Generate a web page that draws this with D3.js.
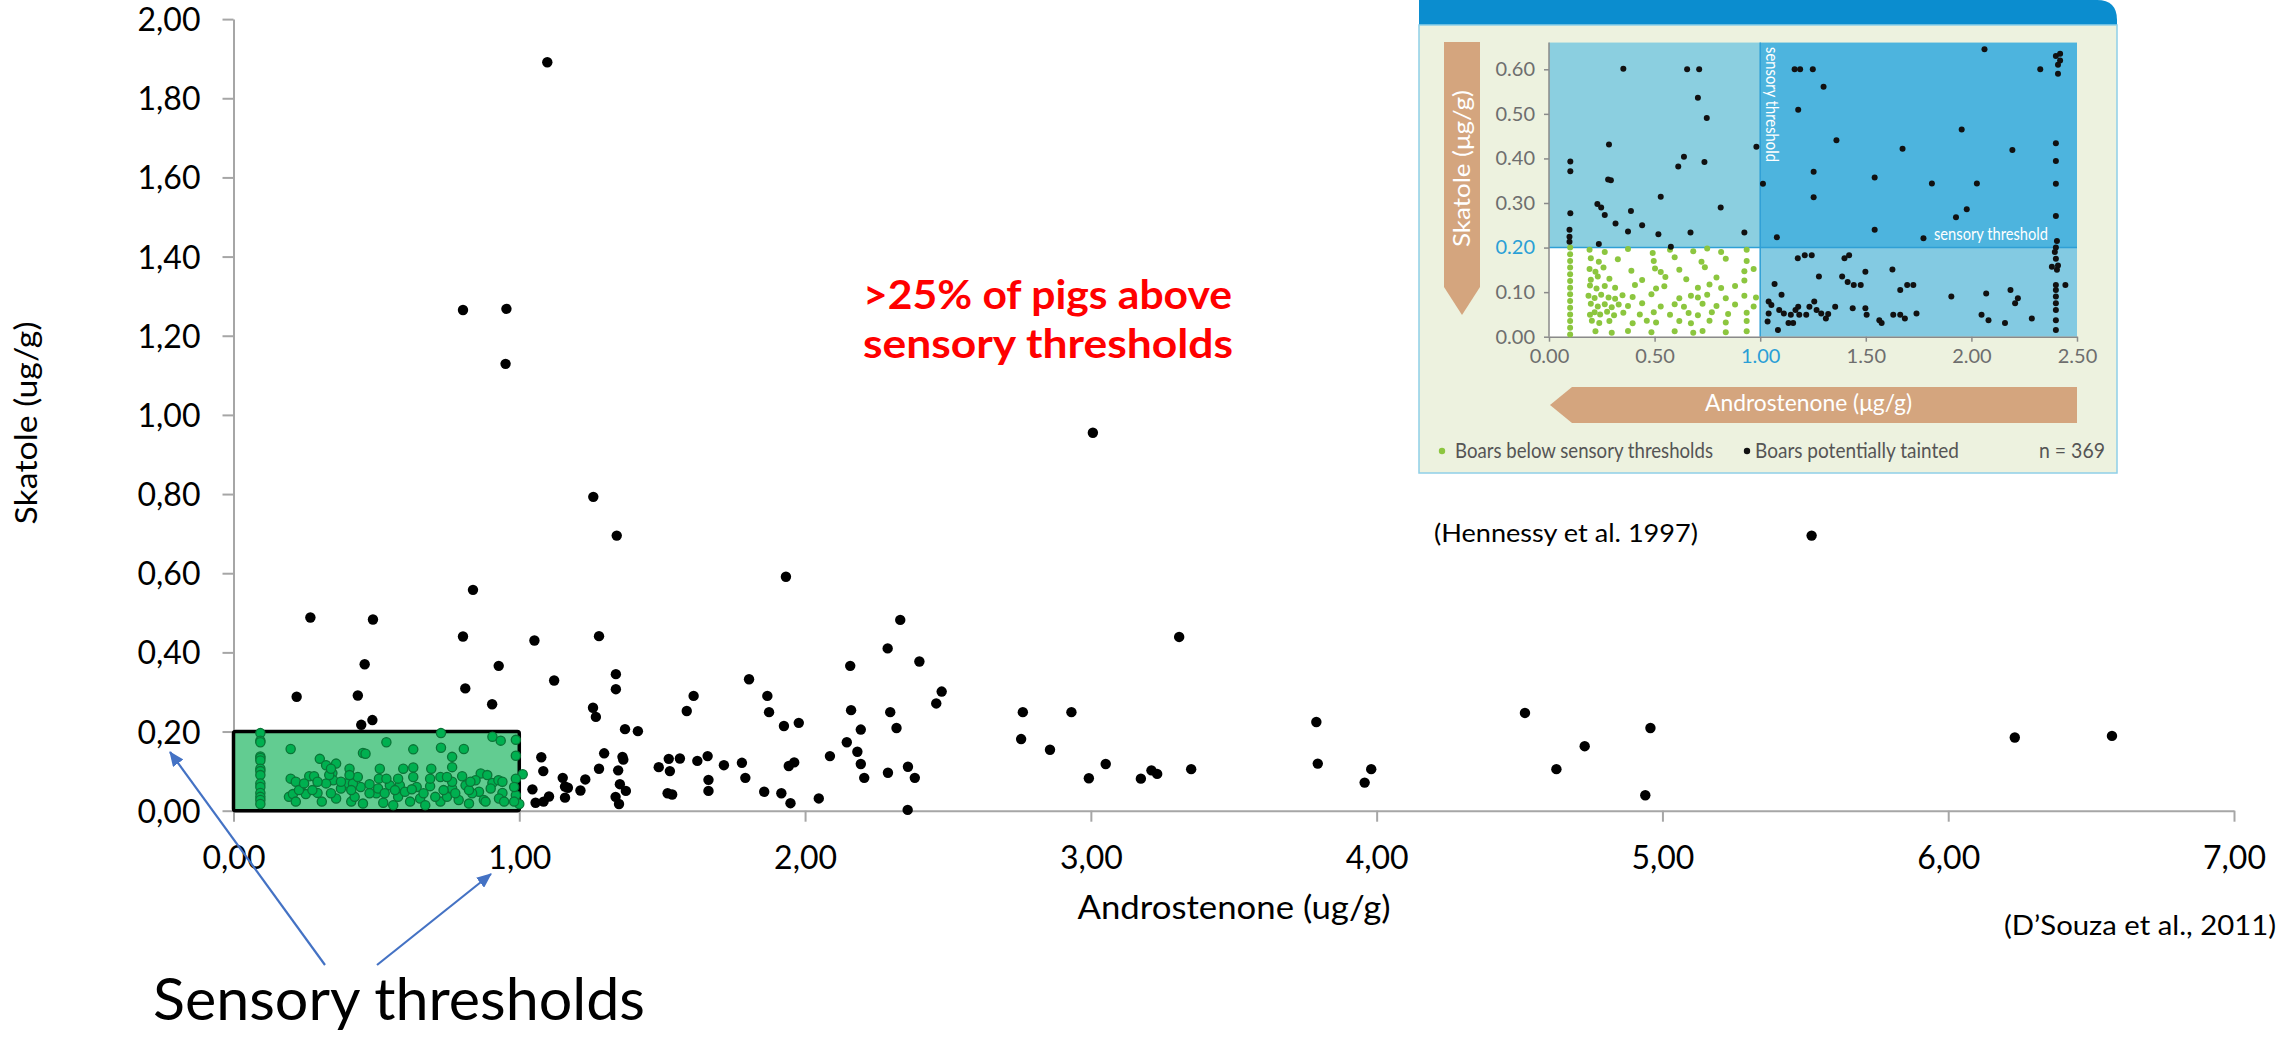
<!DOCTYPE html>
<html><head><meta charset="utf-8">
<script src="https://cdn.jsdelivr.net/npm/d3@7"></script>
<style>body{margin:0;background:#fff;} svg{display:block;}</style>
</head><body>
<script>
// ---------------- DATA ----------------
const xTickValues = [0, 1, 2, 3, 4, 5, 6, 7];
const yTickValues = [0, 0.2, 0.4, 0.6, 0.8, 1.0, 1.2, 1.4, 1.6, 1.8, 2.0];
const thresholdAndrostenone = 1.0;
const thresholdSkatole = 0.2;

// Boars above thresholds (androstenone, skatole) - black
const taintedBoars = [
  [1.098,1.891],[0.803,1.265],[0.955,1.268],[0.952,1.129],
  [0.269,0.488],[0.488,0.483],[0.221,0.288],[0.435,0.291],[0.459,0.370],[0.447,0.217],[0.486,0.229],
  [0.838,0.558],[0.803,0.440],[0.928,0.366],[0.811,0.309],[0.905,0.269],[1.259,0.793],
  [1.341,0.695],[1.933,0.591],[1.053,0.430],[1.279,0.441],[1.122,0.329],[1.338,0.345],[1.338,0.307],
  [1.258,0.260],[1.268,0.237],[1.370,0.206],[1.415,0.201],[2.333,0.482],[2.289,0.410],[2.400,0.377],
  [2.158,0.366],[1.804,0.332],[1.610,0.290],[1.586,0.252],[1.868,0.290],[1.874,0.249],[2.161,0.254],
  [2.298,0.249],[2.320,0.209],[2.478,0.301],[2.459,0.271],[2.195,0.205],[2.146,0.173],[2.087,0.138],
  [2.183,0.149],[2.195,0.118],[2.207,0.083],[2.290,0.096],[2.360,0.111],[2.384,0.083],[2.359,0.002],
  [2.762,0.249],[2.756,0.181],[2.857,0.154],[2.932,0.249],[2.993,0.082],[3.052,0.118],
  [1.926,0.214],[1.978,0.222],[1.943,0.113],[1.962,0.122],[1.917,0.044],[1.949,0.019],[2.048,0.031],
  [1.857,0.048],[1.779,0.121],[1.791,0.083],[1.716,0.115],[1.659,0.138],[1.623,0.126],[1.662,0.078],
  [1.662,0.050],[1.562,0.132],[1.523,0.131],[1.488,0.110],[1.527,0.100],[1.519,0.044],[1.535,0.041],
  [1.361,0.136],[1.364,0.129],[1.297,0.145],[1.279,0.106],[1.346,0.102],[1.352,0.067],[1.373,0.050],
  [1.337,0.035],[1.349,0.017],[1.231,0.079],[1.214,0.051],[1.152,0.083],[1.160,0.061],[1.170,0.058],
  [1.160,0.033],[1.077,0.135],[1.084,0.100],[1.046,0.054],[1.057,0.020],[1.085,0.023],[1.104,0.036],
  [3.175,0.081],[3.212,0.102],[3.232,0.093],[3.309,0.439],[3.351,0.105],[3.789,0.224],[3.794,0.119],
  [3.958,0.071],[3.981,0.105],[4.519,0.247],[4.728,0.163],[4.629,0.105],[4.958,0.209],[4.940,0.039],
  [5.522,0.695],[6.233,0.185],[6.573,0.189],[3.007,0.955]
];

// Boars below both thresholds - green
const belowThresholdBoars = [
  [0.094,0.196],[0.094,0.177],[0.094,0.173],[0.094,0.137],[0.094,0.133],[0.094,0.127],[0.094,0.106],
  [0.094,0.100],[0.094,0.090],[0.094,0.069],[0.094,0.060],[0.094,0.045],[0.094,0.035],[0.094,0.027],[0.094,0.017],
  [0.200,0.156],[0.302,0.131],[0.324,0.115],[0.359,0.119],[0.406,0.106],[0.453,0.146],[0.462,0.144],
  [0.512,0.106],[0.535,0.173],[0.594,0.106],[0.629,0.155],[0.629,0.109],[0.692,0.106],[0.726,0.196],
  [0.726,0.159],[0.765,0.136],[0.765,0.110],[0.806,0.156],[0.865,0.094],[0.906,0.187],[0.935,0.177],
  [0.988,0.179],[0.988,0.139],[1.012,0.092],[0.988,0.081],[0.988,0.039],[1.000,0.017],
  [0.200,0.081],[0.265,0.087],[0.282,0.087],[0.346,0.095],[0.349,0.077],[0.394,0.069],[0.445,0.060],
  [0.476,0.067],[0.509,0.081],[0.547,0.064],[0.582,0.064],[0.629,0.085],[0.641,0.060],[0.688,0.062],
  [0.724,0.085],[0.765,0.056],[0.800,0.087],[0.812,0.064],[0.847,0.077],[0.859,0.048],[0.906,0.070],
  [0.927,0.077],[0.941,0.045],[0.929,0.031],[0.194,0.035],[0.208,0.042],[0.253,0.042],[0.294,0.045],
  [0.309,0.023],[0.359,0.031],[0.376,0.056],[0.412,0.023],[0.424,0.035],[0.453,0.018],[0.500,0.044],
  [0.524,0.020],[0.559,0.014],[0.576,0.035],[0.618,0.023],[0.653,0.031],[0.671,0.014],[0.724,0.023],
  [0.747,0.035],[0.788,0.027],[0.835,0.044],[0.876,0.027],[0.882,0.023],[0.218,0.023],[0.235,0.060],
  [0.218,0.073],[0.229,0.052],[0.247,0.069],[0.276,0.052],[0.324,0.069],[0.341,0.044],[0.376,0.073],
  [0.418,0.069],[0.435,0.085],[0.476,0.044],[0.506,0.056],[0.529,0.044],[0.600,0.048],[0.624,0.054],
  [0.665,0.044],[0.706,0.035],[0.735,0.052],[0.776,0.044],[0.824,0.052],[0.824,0.018],[0.947,0.023],
  [0.982,0.023],[0.982,0.060],[0.941,0.073],[0.335,0.090],[0.341,0.106],[0.406,0.090],[0.535,0.081],
  [0.576,0.081],[0.688,0.081],[0.765,0.073],[0.747,0.085],[0.412,0.052],[0.565,0.052],[0.294,0.073],
  [0.888,0.090],[0.900,0.056],[0.829,0.073]
];

// Inset (Hennessy et al. 1997)
const insetXTicks = [0, 0.5, 1.0, 1.5, 2.0, 2.5];
const insetYTicks = [0, 0.1, 0.2, 0.3, 0.4, 0.5, 0.6];
const insetTainted = [
  [0.352,0.601],[0.654,0.600],[0.711,0.600],[0.705,0.536],[0.747,0.491],[0.284,0.431],[0.101,0.393],
  [0.101,0.371],[0.639,0.404],[0.612,0.382],[0.736,0.392],[0.529,0.314],[0.229,0.298],[0.247,0.290],
  [0.264,0.273],[0.280,0.353],[0.293,0.351],[0.388,0.282],[0.813,0.290],[0.101,0.277],[0.315,0.254],
  [0.441,0.250],[0.374,0.236],[0.518,0.230],[0.670,0.234],[0.925,0.234],[0.577,0.202],[0.236,0.208],
  [0.097,0.240],[0.097,0.224],[0.097,0.213],[0.982,0.426],
  [1.163,0.600],[1.189,0.600],[1.249,0.600],[1.300,0.561],[1.180,0.509],[2.062,0.645],[2.326,0.600],
  [2.400,0.630],[2.410,0.610],[2.410,0.590],[2.420,0.620],[2.420,0.635],[1.361,0.441],[1.674,0.422],
  [1.954,0.465],[2.194,0.419],[2.400,0.434],[2.400,0.394],[2.400,0.343],[2.400,0.271],[1.013,0.343],
  [1.253,0.370],[1.253,0.313],[1.542,0.357],[1.813,0.344],[2.026,0.344],[1.978,0.286],[1.927,0.268],
  [1.542,0.240],[1.079,0.223],[1.773,0.221],
  [1.068,0.118],[1.101,0.094],[1.040,0.079],[1.053,0.071],[1.040,0.052],[1.035,0.034],[1.090,0.060],
  [1.112,0.052],[1.145,0.049],[1.167,0.060],[1.084,0.015],[1.134,0.031],[1.156,0.031],[1.180,0.067],
  [1.185,0.049],[1.178,0.176],[1.211,0.183],[1.244,0.183],[1.218,0.049],[1.233,0.067],[1.267,0.060],
  [1.278,0.135],[1.256,0.079],[1.289,0.052],[1.311,0.041],[1.322,0.051],[1.355,0.067],[1.399,0.176],
  [1.421,0.183],[1.388,0.135],[1.414,0.123],[1.443,0.116],[1.476,0.116],[1.498,0.146],[1.438,0.064],
  [1.498,0.064],[1.504,0.049],[1.564,0.037],[1.575,0.031],[1.626,0.151],[1.630,0.049],[1.663,0.049],
  [1.685,0.041],[1.663,0.105],[1.696,0.116],[1.725,0.116],[1.740,0.052],[1.905,0.090],[2.048,0.049],
  [2.081,0.037],[2.070,0.097],[2.159,0.031],[2.185,0.105],[2.207,0.075],[2.220,0.086],[2.286,0.041],
  [2.400,0.015],[2.400,0.037],[2.400,0.060],[2.400,0.075],[2.400,0.090],[2.400,0.105],[2.400,0.116],
  [2.405,0.150],[2.410,0.160],[2.400,0.175],[2.395,0.190],[2.400,0.200],[2.405,0.215],[2.445,0.116],[2.381,0.157]
];
const insetBelow = [
  [0.1,0.005],[0.1,0.02],[0.1,0.035],[0.1,0.05],[0.1,0.065],[0.1,0.08],[0.1,0.095],[0.1,0.11],
  [0.1,0.125],[0.1,0.14],[0.1,0.155],[0.1,0.17],[0.1,0.185],[0.1,0.2],
  [0.192,0.195],[0.264,0.190],[0.374,0.197],[0.491,0.188],[0.573,0.195],[0.683,0.192],[0.749,0.198],[0.815,0.190],[0.936,0.195],
  [0.198,0.176],[0.236,0.168],[0.326,0.174],[0.496,0.170],[0.595,0.178],[0.722,0.168],[0.837,0.175],[0.936,0.170],
  [0.192,0.152],[0.220,0.146],[0.258,0.155],[0.390,0.148],[0.502,0.153],[0.529,0.145],[0.617,0.150],[0.738,0.156],[0.925,0.147],[0.969,0.152],
  [0.198,0.128],[0.231,0.135],[0.286,0.130],[0.441,0.127],[0.551,0.134],[0.650,0.129],[0.793,0.133],[0.925,0.126],
  [0.194,0.115],[0.225,0.108],[0.264,0.114],[0.313,0.110],[0.407,0.116],[0.507,0.108],[0.546,0.113],[0.705,0.110],[0.760,0.117],[0.815,0.109],[0.881,0.114],
  [0.187,0.092],[0.216,0.087],[0.247,0.094],[0.282,0.088],[0.313,0.085],[0.348,0.093],[0.396,0.089],[0.485,0.095],[0.617,0.086],[0.672,0.092],[0.705,0.088],[0.749,0.094],[0.837,0.086],[0.925,0.092],[0.980,0.088],
  [0.198,0.074],[0.231,0.068],[0.264,0.073],[0.297,0.066],[0.330,0.072],[0.374,0.069],[0.441,0.075],[0.529,0.068],[0.595,0.073],[0.639,0.067],[0.727,0.074],[0.793,0.069],[0.881,0.072],[0.969,0.068],
  [0.194,0.049],[0.216,0.055],[0.242,0.050],[0.275,0.056],[0.308,0.048],[0.352,0.054],[0.430,0.050],[0.496,0.055],[0.573,0.049],[0.661,0.053],[0.705,0.048],[0.771,0.055],[0.848,0.051],[0.936,0.054],
  [0.203,0.036],[0.238,0.031],[0.286,0.035],[0.396,0.030],[0.463,0.036],[0.507,0.032],[0.617,0.035],[0.672,0.030],[0.760,0.036],[0.837,0.032],[0.936,0.035],
  [0.220,0.012],[0.297,0.009],[0.374,0.013],[0.485,0.010],[0.595,0.012],[0.683,0.009],[0.727,0.013],[0.837,0.010],[0.936,0.012]
];
const annotationLines = [">25% of pigs above", "sensory thresholds"];

// ---------------- DRAW ----------------
const W = 2282, H = 1037;
const FONT = "Lato, 'Open Sans', sans-serif";
const svg = d3.select("body").append("svg").attr("width", W).attr("height", H)
  .style("font-family", FONT);

const x = d3.scaleLinear().domain([0, 7]).range([233.5, 2234]);
const y = d3.scaleLinear().domain([0, 2]).range([810.7, 19.1]);
const fmtComma = d => d3.format(".2f")(d).replace(".", ",");

// axes
const axisColor = "#a6a6a6";
const gy = svg.append("g").attr("transform", `translate(${x(0)},0)`)
  .call(d3.axisLeft(y).tickValues(yTickValues).tickFormat(fmtComma).tickSize(11).tickSizeOuter(0).tickPadding(22));
const gx = svg.append("g").attr("transform", `translate(0,${y(0)})`)
  .call(d3.axisBottom(x).tickValues(xTickValues).tickFormat(fmtComma).tickSize(11).tickSizeOuter(0).tickPadding(25));
[gx, gy].forEach(g => {
  g.select(".domain").attr("stroke", axisColor).attr("stroke-width", 2);
  g.selectAll(".tick line").attr("stroke", axisColor).attr("stroke-width", 2);
  g.selectAll(".tick text").attr("fill", "#000").style("font-size", "32px").style("font-family", FONT);
});
gy.selectAll(".tick text").attr("dy", "0.36em");

// black points
svg.append("g").selectAll("circle").data(taintedBoars).join("circle")
  .attr("cx", d => x(d[0])).attr("cy", d => y(d[1])).attr("r", 5.2).attr("fill", "#000");

// threshold box
svg.append("rect")
  .attr("x", x(0)).attr("y", y(thresholdSkatole))
  .attr("width", x(thresholdAndrostenone) - x(0)).attr("height", y(0) - y(thresholdSkatole))
  .attr("rx", 2).attr("fill", "#62cc91").attr("stroke", "#000").attr("stroke-width", 3.5);

// green points
svg.append("g").selectAll("circle").data(belowThresholdBoars).join("circle")
  .attr("cx", d => x(d[0])).attr("cy", d => y(d[1])).attr("r", 4.6)
  .attr("fill", "#00b050").attr("stroke", "#0a7537").attr("stroke-width", 1.3);

// axis titles
svg.append("text").attr("transform", "translate(37,423) rotate(-90)")
  .attr("text-anchor", "middle").style("font-size", "31px")
  .attr("textLength", 203).attr("lengthAdjust", "spacingAndGlyphs")
  .text("Skatole (ug/g)");
svg.append("text").attr("x", 1234).attr("y", 919)
  .attr("text-anchor", "middle").style("font-size", "33px")
  .attr("textLength", 313).attr("lengthAdjust", "spacingAndGlyphs")
  .text("Androstenone (ug/g)");

// citations
svg.append("text").attr("x", 2004).attr("y", 935).style("font-size", "27px")
  .attr("textLength", 272).attr("lengthAdjust", "spacingAndGlyphs")
  .text("(D\u2019Souza et al., 2011)");
svg.append("text").attr("x", 1434).attr("y", 542).style("font-size", "25px")
  .attr("textLength", 264).attr("lengthAdjust", "spacingAndGlyphs")
  .text("(Hennessy et al. 1997)");

// red annotation
svg.append("g").selectAll("text").data(annotationLines).join("text")
  .attr("x", 863).attr("y", (d, i) => 309 + i * 49)
  .attr("fill", "#ff0000").style("font-weight", "bold").style("font-size", "40px")
  .attr("textLength", (d, i) => i === 0 ? 369 : 370).attr("lengthAdjust", "spacingAndGlyphs")
  .text(d => d);

// sensory thresholds label and arrows
svg.append("text").attr("x", 153).attr("y", 1020).style("font-size", "58px")
  .attr("textLength", 492).attr("lengthAdjust", "spacingAndGlyphs")
  .text("Sensory thresholds");
const defs = svg.append("defs");
defs.append("marker").attr("id", "arr").attr("viewBox", "0 0 14 12")
  .attr("refX", 13).attr("refY", 6).attr("markerWidth", 15).attr("markerHeight", 13)
  .attr("markerUnits", "userSpaceOnUse").attr("orient", "auto")
  .append("path").attr("d", "M0,0 L14,6 L0,12 Z").attr("fill", "#4472c4");
svg.append("line").attr("x1", 325).attr("y1", 965).attr("x2", 170).attr("y2", 752)
  .attr("stroke", "#4472c4").attr("stroke-width", 2.2).attr("marker-end", "url(#arr)");
svg.append("line").attr("x1", 377).attr("y1", 965).attr("x2", 491).attr("y2", 874)
  .attr("stroke", "#4472c4").attr("stroke-width", 2.2).attr("marker-end", "url(#arr)");

// ---------------- INSET ----------------
const ins = svg.append("g");
const iL = 1419, iR = 2117, iTop = 25, iBot = 473;
ins.append("path").attr("d", `M${iL},${iTop + 2} V0 H${iR - 20} Q${iR},0 ${iR},20 V${iTop + 2} Z`).attr("fill", "#0b8dcf");
ins.append("rect").attr("x", iL).attr("y", iTop).attr("width", iR - iL).attr("height", iBot - iTop)
  .attr("fill", "#edf2df").attr("stroke", "#8fcfe8").attr("stroke-width", 1.5);

const xi = d3.scaleLinear().domain([0, 2.5]).range([1549, 2077]);
const yi = d3.scaleLinear().domain([0, 0.6]).range([336.7, 69.3]);
const yTopVal = 0.66;
// quadrants
const quads = [
  {x0: 0, x1: thresholdAndrostenone, y0: 0, y1: thresholdSkatole, c: "#ffffff"},
  {x0: 0, x1: thresholdAndrostenone, y0: thresholdSkatole, y1: yTopVal, c: "#8bcfe0"},
  {x0: thresholdAndrostenone, x1: 2.5, y0: thresholdSkatole, y1: yTopVal, c: "#4db4de"},
  {x0: thresholdAndrostenone, x1: 2.5, y0: 0, y1: thresholdSkatole, c: "#83cae2"}
];
ins.append("g").selectAll("rect").data(quads).join("rect")
  .attr("x", d => xi(d.x0)).attr("y", d => yi(d.y1))
  .attr("width", d => xi(d.x1) - xi(d.x0)).attr("height", d => yi(d.y0) - yi(d.y1))
  .attr("fill", d => d.c);
ins.append("line").attr("x1", xi(thresholdAndrostenone)).attr("x2", xi(thresholdAndrostenone))
  .attr("y1", yi(0)).attr("y2", yi(yTopVal)).attr("stroke", "#2f9fd5").attr("stroke-width", 1.5);
ins.append("line").attr("x1", xi(0)).attr("x2", xi(2.5))
  .attr("y1", yi(thresholdSkatole)).attr("y2", yi(thresholdSkatole)).attr("stroke", "#2f9fd5").attr("stroke-width", 1.5);

// inset axes
const insGrey = "#6e6e6e", insBlue = "#2a9fd6";
const giy = ins.append("g").attr("transform", `translate(${xi(0)},0)`)
  .call(d3.axisLeft(yi).tickValues(insetYTicks).tickFormat(d3.format(".2f")).tickSize(5).tickSizeOuter(0).tickPadding(9));
const gix = ins.append("g").attr("transform", `translate(0,${yi(0)})`)
  .call(d3.axisBottom(xi).tickValues(insetXTicks).tickFormat(d3.format(".2f")).tickSize(5).tickSizeOuter(0).tickPadding(7));
giy.select(".domain").attr("d", `M0,${yi(0)}V${yi(yTopVal)}`);
[giy, gix].forEach(g => {
  g.select(".domain").attr("stroke", "#8a8a8a").attr("stroke-width", 1.5);
  g.selectAll(".tick line").attr("stroke", "#8a8a8a").attr("stroke-width", 1.5);
  g.selectAll(".tick text").style("font-size", "20px").style("font-family", FONT)
    .attr("fill", d => (Math.abs(d - thresholdSkatole) < 1e-9 && g === giy) || (Math.abs(d - thresholdAndrostenone) < 1e-9 && g === gix) ? insBlue : insGrey);
});

// inset points
ins.append("g").selectAll("circle").data(insetBelow).join("circle")
  .attr("cx", d => xi(d[0])).attr("cy", d => yi(d[1])).attr("r", 3).attr("fill", "#8cc63f");
ins.append("g").selectAll("circle").data(insetTainted).join("circle")
  .attr("cx", d => xi(d[0])).attr("cy", d => yi(d[1])).attr("r", 3).attr("fill", "#111");

// threshold texts in inset
ins.append("text").attr("transform", `translate(${xi(thresholdAndrostenone) + 6},47) rotate(90)`)
  .attr("fill", "#fff").style("font-size", "18px")
  .attr("textLength", 115).attr("lengthAdjust", "spacingAndGlyphs").text("sensory threshold");
ins.append("text").attr("x", 1934).attr("y", 240)
  .attr("fill", "#fff").style("font-size", "18px")
  .attr("textLength", 114).attr("lengthAdjust", "spacingAndGlyphs").text("sensory threshold");

// tan arrows
const tan = "#d4a57e";
ins.append("path").attr("d", "M1444,42 H1480 V287 L1462,315 L1444,287 Z").attr("fill", tan);
ins.append("text").attr("transform", "translate(1470,168.5) rotate(-90)").attr("text-anchor", "middle")
  .attr("fill", "#fff").style("font-size", "23px")
  .attr("textLength", 157).attr("lengthAdjust", "spacingAndGlyphs").text("Skatole (\u03bcg/g)");
ins.append("path").attr("d", "M2077,387 V423 H1572 L1550,405 L1572,387 Z").attr("fill", tan);
ins.append("text").attr("x", 1808.5).attr("y", 411).attr("text-anchor", "middle")
  .attr("fill", "#fff").style("font-size", "23px")
  .attr("textLength", 207).attr("lengthAdjust", "spacingAndGlyphs").text("Androstenone (\u03bcg/g)");

// inset legend
ins.append("circle").attr("cx", 1442).attr("cy", 451).attr("r", 3.2).attr("fill", "#8cc63f");
ins.append("circle").attr("cx", 1747).attr("cy", 451).attr("r", 3.2).attr("fill", "#111");
const legendTexts = [
  {t: "Boars below sensory thresholds", x: 1455, w: 258},
  {t: "Boars potentially tainted", x: 1755, w: 204},
  {t: "n = 369", x: 2039, w: 66}
];
ins.append("g").selectAll("text").data(legendTexts).join("text")
  .attr("x", d => d.x).attr("y", 458).attr("fill", "#555").style("font-size", "22px")
  .attr("textLength", d => d.w).attr("lengthAdjust", "spacingAndGlyphs").text(d => d.t);
</script>
</body></html>
